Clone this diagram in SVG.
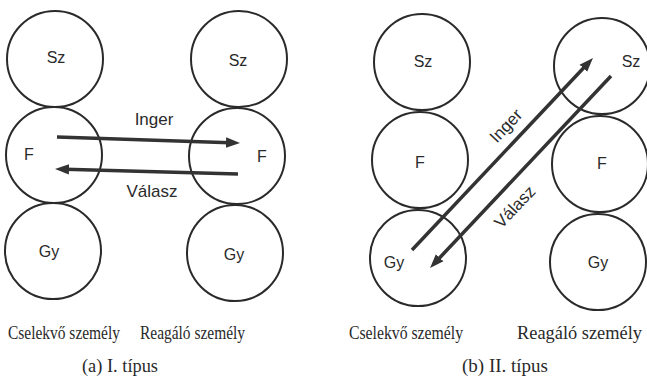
<svg xmlns="http://www.w3.org/2000/svg" width="647" height="385" viewBox="0 0 647 385">
<style>
.c{fill:none;stroke:#2a2a2a;stroke-width:2}
.l{font-family:"Liberation Sans","DejaVu Sans",sans-serif;font-size:16px;fill:#2a2a2a;text-anchor:middle;dominant-baseline:central}
.m{font-size:17px}
.a{fill:none;stroke:#333;stroke-width:3.5}
.cap{font-family:"Liberation Serif","DejaVu Serif",serif;font-size:18px;fill:#2a2a2a}
</style>
<defs>
<marker id="ah" markerUnits="userSpaceOnUse" markerWidth="16" markerHeight="12" refX="4" refY="6" orient="auto">
<path d="M0,0.8 L14,6 L0,11.2 Z" fill="#333"/>
</marker>
</defs>
<rect width="647" height="385" fill="#fff"/>
<g id="a-left-sz"><circle class="c" cx="55" cy="59" r="48"/><text class="l" x="56" y="57">Sz</text></g>
<g id="a-left-f"><circle class="c" cx="54" cy="155" r="48"/><text class="l" x="29" y="154">F</text></g>
<g id="a-left-gy"><circle class="c" cx="53" cy="251" r="48"/><text class="l" x="49" y="251">Gy</text></g>
<g id="a-right-sz"><circle class="c" cx="239" cy="59" r="48"/><text class="l" x="238" y="60">Sz</text></g>
<g id="a-right-f"><circle class="c" cx="237" cy="156" r="48"/><text class="l" x="262" y="156">F</text></g>
<g id="a-right-gy"><circle class="c" cx="235" cy="253" r="48"/><text class="l" x="234" y="254">Gy</text></g>
<g id="b-left-sz"><circle class="c" cx="422" cy="62" r="48"/><text class="l" x="423" y="61">Sz</text></g>
<g id="b-left-f"><circle class="c" cx="420" cy="160" r="48"/><text class="l" x="420" y="162">F</text></g>
<g id="b-left-gy"><circle class="c" cx="418" cy="258" r="48"/><text class="l" x="394" y="262">Gy</text></g>
<g id="b-right-sz"><circle class="c" cx="602" cy="66" r="48"/><text class="l" x="631" y="61">Sz</text></g>
<g id="b-right-f"><circle class="c" cx="600" cy="164" r="48"/><text class="l" x="602" y="163">F</text></g>
<g id="b-right-gy"><circle class="c" cx="598" cy="262" r="48"/><text class="l" x="598" y="262">Gy</text></g>
<g id="connectors">
<path class="a" d="M57,137 L230,142.7" marker-end="url(#ah)"/>
<path class="a" d="M238,174 L65,169.3" marker-end="url(#ah)"/>
<path class="a" d="M412,250 L586.1,65.3" marker-end="url(#ah)"/>
<path class="a" d="M611,76 L436.9,260.7" marker-end="url(#ah)"/>
<text class="l m" x="154" y="119">Inger</text>
<text class="l m" x="152" y="191">Válasz</text>
<text class="l m" x="506" y="126" transform="rotate(-46.7 506 126)">Inger</text>
<text class="l m" x="515" y="207" transform="rotate(-46.7 515 207)">Válasz</text>
</g>
<g id="captions">
<text class="cap" x="8" y="339" textLength="112" lengthAdjust="spacingAndGlyphs">Cselekvő személy</text>
<text class="cap" x="140" y="339" textLength="105" lengthAdjust="spacingAndGlyphs">Reagáló személy</text>
<text class="cap" x="82" y="372" textLength="76" lengthAdjust="spacingAndGlyphs">(a) I. típus</text>
<text class="cap" x="349" y="339" textLength="114" lengthAdjust="spacingAndGlyphs">Cselekvő személy</text>
<text class="cap" x="517" y="339" textLength="125" lengthAdjust="spacingAndGlyphs">Reagáló személy</text>
<text class="cap" x="462" y="372" textLength="86" lengthAdjust="spacingAndGlyphs">(b) II. típus</text>
</g>
</svg>
